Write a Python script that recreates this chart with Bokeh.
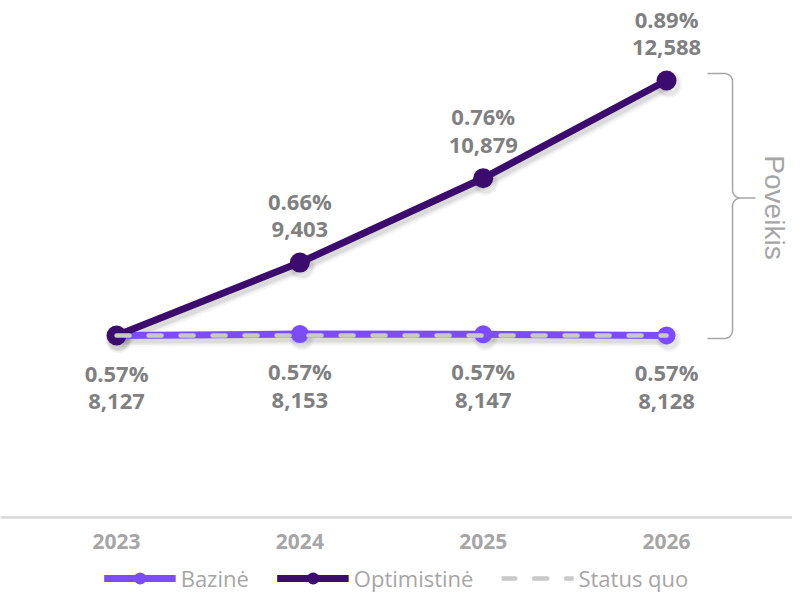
import math
from bokeh.plotting import figure
from bokeh.layouts import column
from bokeh.models import Range1d, FixedTicker, Legend, LegendItem, ColumnDataSource
from bokeh.transform import dodge
from bokeh.core.properties import value
from bokeh.embed import file_html
from bokeh.resources import INLINE

# ---------------- data ----------------
years = [2023, 2024, 2025, 2026]
year_labels = ["2023", "2024", "2025", "2026"]
bazine = [8127, 8153, 8147, 8128]
optimistine = [8127, 9403, 10879, 12588]
status_quo = [8127, 8127, 8127, 8127]
bazine_pct = ["0.57%", "0.57%", "0.57%", "0.57%"]
optimistine_pct = ["0.57%", "0.66%", "0.76%", "0.89%"]
bracket_label = "Poveikis"
series_names = ["Bazinė", "Optimistinė", "Status quo"]

# ---------------- geometry ----------------
FIG_W = 792
MAIN_H = 562
BOTTOM = 45
LEG_H = 31
FRAME_H = MAIN_H - BOTTOM
X0, X1 = 2022.367, 2026.687
Y0, Y1 = 4943, 13988
PX_X = (X1 - X0) / FIG_W        # data units per px (x)
PX_Y = (Y1 - Y0) / FRAME_H      # data units per px (y)

C_BAZ = "#7b4dfa"
C_OPT = "#3b0b6e"
C_SQ = "#c9c9c9"
C_LBL = "#808080"
C_AX = "#a6a6a6"

p = figure(width=FIG_W, height=MAIN_H,
           x_range=Range1d(X0, X1), y_range=Range1d(Y0, Y1),
           output_backend="svg", toolbar_location=None,
           y_axis_location=None,
           min_border_left=0, min_border_right=0, min_border_top=0,
           min_border_bottom=BOTTOM)
p.outline_line_color = None
p.xgrid.grid_line_color = None
p.ygrid.grid_line_color = None
p.background_fill_color = "white"
p.border_fill_color = "white"

src = ColumnDataSource(dict(
    x=years, baz=bazine, opt=optimistine, sq=status_quo,
    baz_val=[f"{v:,}" for v in bazine], baz_pct=bazine_pct,
))
top_src = ColumnDataSource(dict(
    x=years[1:], opt=optimistine[1:],
    opt_val=[f"{v:,}" for v in optimistine[1:]], opt_pct=optimistine_pct[1:],
))

# soft shadows
for w, a in [(15, 0.035), (11, 0.05), (8, 0.06)]:
    p.line(x=dodge("x", 2 * PX_X), y=dodge("baz", -4 * PX_Y), source=src,
           line_color="black", line_alpha=a, line_width=w)
    p.line(x=dodge("x", 2 * PX_X), y=dodge("opt", -4 * PX_Y), source=src,
           line_color="black", line_alpha=a, line_width=w)
for s, a in [(27, 0.04), (23, 0.06)]:
    p.scatter(x=dodge("x", 2 * PX_X), y=dodge("opt", -4 * PX_Y), source=src, size=s,
              fill_color="black", fill_alpha=a, line_color=None)
    p.scatter(x=dodge("x", 2 * PX_X), y=dodge("baz", -4 * PX_Y), source=src, size=s - 2,
              fill_color="black", fill_alpha=a, line_color=None)

baz_kw = dict(line_color=C_BAZ, line_width=7)
opt_kw = dict(line_color=C_OPT, line_width=7)
sq_kw = dict(line_color=C_SQ, line_width=4.5, line_dash="13 19", line_cap="round")

p.line("x", "baz", source=src, **baz_kw)
p.scatter("x", "baz", source=src, size=18, fill_color=C_BAZ, line_color=None)
p.line("x", "opt", source=src, **opt_kw)
p.scatter("x", "opt", source=src, size=20, fill_color=C_OPT, line_color=None)
p.line("x", "sq", source=src, **sq_kw)

lbl_kw = dict(text_align="center", text_baseline="middle", text_font=value("Open Sans"),
              text_font_style="bold", text_font_size="22px", text_color=C_LBL)
p.text(x="x", y="baz", text="baz_pct", source=src, y_offset=37, **lbl_kw)
p.text(x="x", y="baz", text="baz_val", source=src, y_offset=66, **lbl_kw)
p.text(x="x", y="opt", text="opt_pct", source=top_src, y_offset=-62, **lbl_kw)
p.text(x="x", y="opt", text="opt_val", source=top_src, y_offset=-33, **lbl_kw)

# ---------------- brace ("Poveikis") ----------------
def sx(v):
    return (v - X0) / PX_X

def sy(v):
    return (Y1 - v) / PX_Y

def dx(px):
    return X0 + px * PX_X

def dy(py):
    return Y1 - py * PX_Y

xl = sx(years[-1]) + 41
xv = sx(years[-1]) + 66
xt = sx(years[-1]) + 89
yt = sy(max(optimistine)) - 7
yb = sy(bazine[-1]) + 3
ym = yt + 0.47 * (yb - yt)
r = 8

def arc(cx, cy, a0, a1, n=8):
    return [(cx + r * math.cos(a0 + (a1 - a0) * i / n),
             cy + r * math.sin(a0 + (a1 - a0) * i / n)) for i in range(n + 1)]

pts = [(xl, yt)]
pts += arc(xv - r, yt + r, -math.pi / 2, 0)           # top corner
pts += arc(xv + r, ym - r, math.pi, math.pi / 2)       # into tip
pts += [(xt, ym)]
pts += arc(xv + r, ym + r, -math.pi / 2, -math.pi)     # out of tip
pts += arc(xv - r, yb - r, 0, math.pi / 2)             # bottom corner
pts += [(xl, yb)]
p.line([dx(a) for a, b in pts], [dy(b) for a, b in pts],
       line_color=C_AX, line_width=1.5)

p.text(x=[dx(774)], y=[dy(207)], text=[bracket_label], angle=-math.pi / 2,
       text_align="center", text_baseline="middle", text_font=value("Liberation Sans"),
       text_font_size="28px", text_color=C_AX)

# ---------------- axis ----------------
ax = p.xaxis[0]
ax.ticker = FixedTicker(ticks=years)
ax.major_label_overrides = {y: l for y, l in zip(years, year_labels)}
ax.axis_line_color = "#d9d9d9"
ax.axis_line_width = 2.5
ax.major_tick_line_color = None
ax.minor_tick_line_color = None
ax.major_tick_out = 0
ax.major_label_standoff = 16
ax.major_label_text_font = "Open Sans"
ax.major_label_text_font_style = "bold"
ax.major_label_text_font_size = "21px"
ax.major_label_text_color = C_AX

# ---------------- legend strip ----------------
lg = figure(width=FIG_W, height=LEG_H, x_range=Range1d(0, 1), y_range=Range1d(0, 1),
            output_backend="svg", toolbar_location=None,
            x_axis_location=None, y_axis_location=None,
            min_border_left=0, min_border_right=0, min_border_top=0, min_border_bottom=0)
lg.outline_line_color = None
lg.xgrid.grid_line_color = None
lg.ygrid.grid_line_color = None
# same series (they fall outside this strip's ranges, so only their legend glyphs show)
l_baz = lg.line("x", "baz", source=src, **baz_kw)
m_baz = lg.scatter("x", "baz", source=src, size=18, fill_color=C_BAZ, line_color=None)
l_opt = lg.line("x", "opt", source=src, **opt_kw)
m_opt = lg.scatter("x", "opt", source=src, size=20, fill_color=C_OPT, line_color=None)
l_sq = lg.line("x", "sq", source=src, **sq_kw)

legend = Legend(items=[
    LegendItem(label=series_names[0], renderers=[l_baz, m_baz]),
    LegendItem(label=series_names[1], renderers=[l_opt, m_opt]),
    LegendItem(label=series_names[2], renderers=[l_sq]),
], orientation="horizontal", location="center",
    glyph_width=72, glyph_height=30, label_standoff=5, spacing=28,
    padding=0, margin=0, border_line_color=None, background_fill_alpha=0,
    label_text_font="Open Sans", label_text_font_size="22px", label_text_color=C_AX)
lg.add_layout(legend, "center")

layout = column(p, lg, spacing=0)
open("out.html", "w").write(file_html(layout, INLINE))
